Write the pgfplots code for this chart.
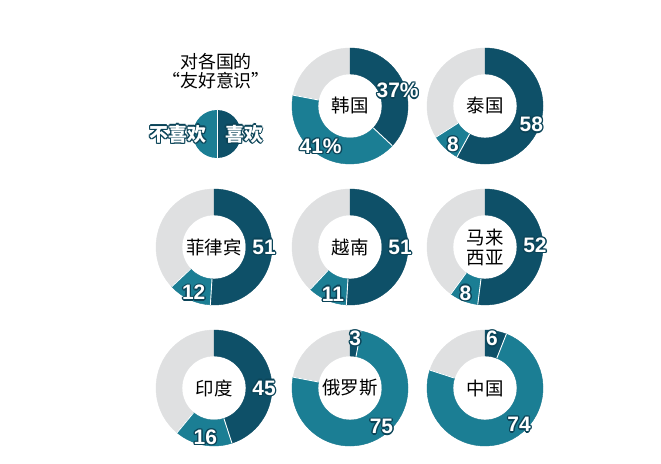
\documentclass[border=0pt]{standalone}
\usepackage{fontspec}
\setmainfont{Liberation Sans}
\newfontfamily\cjk{Noto Sans CJK SC}
\usepackage{pgfplots}
\pgfplotsset{compat=1.18}
\definecolor{dk}{HTML}{0E5068}
\definecolor{md}{HTML}{1B7E94}
\definecolor{gry}{HTML}{DFE0E1}
\definecolor{olc}{HTML}{0B4458}
\pgfdeclareplotmark{empty}{}
\protected\def\br{\\}
\newlength\ow \setlength\ow{1.35bp}
% white text with a dark outline
\newcommand\ol[1]{\leavevmode
  \rlap{\color{olc}\kern-\ow\relax #1}\rlap{\color{olc}\kern\ow\relax #1}%
  \rlap{\color{olc}\raisebox{\ow}{#1}}\rlap{\color{olc}\raisebox{-\ow}{#1}}%
  \rlap{\color{olc}\kern.7\ow\relax\raisebox{.7\ow}{#1}}\rlap{\color{olc}\kern-.7\ow\relax\raisebox{.7\ow}{#1}}%
  \rlap{\color{olc}\kern.7\ow\relax\raisebox{-.7\ow}{#1}}\rlap{\color{olc}\kern-.7\ow\relax\raisebox{-.7\ow}{#1}}%
  {\color{white}#1}}
\newcommand\nlab[1]{\fontsize{21}{23}\selectfont\bfseries\ol{#1}}
\def\Ro{58bp}
\def\Ri{32bp}
\newcommand\donut{%
  \pgfmathsetmacro\aA{90-3.6*\like}%
  \pgfmathsetmacro\aB{90-3.6*(\like+\dis)}%
  \pgfmathsetmacro\pA{90-\la}%
  \pgfmathsetmacro\pB{90-\da}%
  \fill[gry,even odd rule] (0,0) circle[radius=\Ro] (0,0) circle[radius=\Ri];
  \fill[dk] (90:\Ro) arc[start angle=90,end angle=\aA,radius=\Ro] -- (\aA:\Ri)
    arc[start angle=\aA,end angle=90,radius=\Ri] -- cycle;
  \fill[md] (\aA:\Ro) arc[start angle=\aA,end angle=\aB,radius=\Ro] -- (\aB:\Ri)
    arc[start angle=\aB,end angle=\aA,radius=\Ri] -- cycle;
  \draw[white,line width=0.9bp] (\aA:\Ri) -- (\aA:\Ro) (\aB:\Ri) -- (\aB:\Ro);
  \node[inner sep=0,align=center,font=\cjk\fontsize{18.5}{20}\selectfont] at (0,0) {\cname};
  \node[inner sep=0] at (\pA:50bp) {\nlab{\like\ifnum\pct=1\%\fi}};
  \node[inner sep=0] at (\pB:50bp) {\nlab{\dis\ifnum\pct=1\%\fi}};
}

\begin{document}
\begin{tikzpicture}
\fill[white] (0,0) rectangle (661bp,464bp);
\path[use as bounding box] (0,0) rectangle (661bp,464bp);
\begin{axis}[
    width=661bp, height=464bp, scale only axis,
    xmin=0, xmax=661, ymin=0, ymax=464,
    y dir=reverse,
    hide axis, clip=false,
  ]
  % legend
  \fill[md] (axis cs:217,134) ++(90:24bp) arc[start angle=90,end angle=270,radius=24bp] -- cycle;
  \fill[dk] (axis cs:217,134) ++(-90:24bp) arc[start angle=-90,end angle=90,radius=24bp] -- cycle;
  \draw[white,line width=1bp] (axis cs:217,110) -- (axis cs:217,158);
  \node[inner sep=0,font=\cjk\bfseries\fontsize{19}{21}\selectfont] at (axis cs:178,134) {\ol{不喜欢}};
  \node[inner sep=0,font=\cjk\bfseries\fontsize{19}{21}\selectfont] at (axis cs:244,134) {\ol{喜欢}};
  \node[inner sep=0,font=\cjk\fontsize{18}{20}\selectfont] at (axis cs:216,62) {对各国的};
  \node[inner sep=0,font=\cjk\fontsize{18}{20}\selectfont] at (axis cs:216,81) {“友好意识”};
  % donuts: like (dark) from the top clockwise, then dislike (teal)
  \addplot[scatter, only marks, mark=empty,
    visualization depends on={value \thisrow{like}\as\like},
    visualization depends on={value \thisrow{dislike}\as\dis},
    visualization depends on={value \thisrow{la}\as\la},
    visualization depends on={value \thisrow{da}\as\da},
    visualization depends on={value \thisrow{pct}\as\pct},
    visualization depends on={value \thisrow{name}\as\cname},
    scatter/@pre marker code/.code={\donut},
    scatter/@post marker code/.code={},
  ] table[x=cx,y=cy] {
cx  cy  like dislike la  da  pct name
350 106 37   41      72  216 1   韩国
485 106 58   8       112 220 0   泰国
214 247 51   12      90  204 0   菲律宾
350 247 51   11      90  200 0   越南
485 247 52   8       88  203 0   {马来\br 西亚}
214 388 45   16      90  190 0   印度
350 388 3    75      6   141 0   俄罗斯
485 388 6    74      8   137 0   中国
  };
\end{axis}
\end{tikzpicture}
\end{document}
